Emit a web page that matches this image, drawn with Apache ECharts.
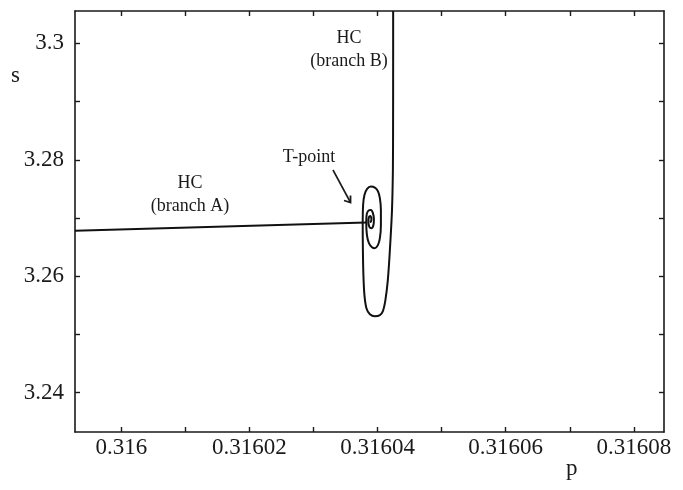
<!DOCTYPE html>
<html>
<head>
<meta charset="utf-8">
<script src="https://cdn.jsdelivr.net/npm/echarts@6/dist/echarts.min.js"></script>
<style>
html, body { margin: 0; padding: 0; background: #fff; }
#main { width: 683px; height: 490px; }
</style>
</head>
<body>
<div id="main"></div>
<script>
// axis ticks and labels
var xTicks = [0.316, 0.31601, 0.31602, 0.31603, 0.31604, 0.31605, 0.31606, 0.31607, 0.31608];
var xLabels = [0.316, 0.31602, 0.31604, 0.31606, 0.31608];
var yTicks = [3.24, 3.25, 3.26, 3.27, 3.28, 3.29, 3.3];
var yLabels = [3.24, 3.26, 3.28, 3.3];
var xMin = 0.31599278, xMax = 0.3160847;
var yMin = 3.23326, yMax = 3.30555;

// HC branch A (straight segment into the T-point)
var branchAP = [0.31599278, 0.31603826];
var branchAS = [3.26780, 3.26924];

// HC branch B (comes down from the top and spirals into the T-point)
var branchBP = [0.31604243, 0.31604243, 0.31604242, 0.31604239, 0.31604225, 0.31604192, 0.31604160, 0.31604122,
  0.31604083, 0.31604036, 0.31603958, 0.31603880, 0.31603826, 0.31603795, 0.31603779, 0.31603771,
  0.31603768, 0.31603774, 0.31603795, 0.31603834, 0.31603896, 0.31603958, 0.31604005, 0.31604036,
  0.31604052, 0.31604052, 0.31604036, 0.31604005, 0.31603958, 0.31603912, 0.31603865, 0.31603834,
  0.31603823, 0.31603831, 0.31603857, 0.31603896, 0.31603927, 0.31603943, 0.31603935, 0.31603904,
  0.31603873, 0.31603857, 0.31603865, 0.31603888, 0.31603904, 0.31603896, 0.31603880];
var branchBS = [3.30555, 3.29713, 3.28682, 3.27823, 3.27136, 3.26448, 3.25933, 3.25589,
  3.25400, 3.25332, 3.25314, 3.25349, 3.25452, 3.25675, 3.26019, 3.26448,
  3.26878, 3.27222, 3.27394, 3.27497, 3.27540, 3.27522, 3.27462, 3.27342,
  3.27136, 3.26878, 3.26655, 3.26534, 3.26483, 3.26500, 3.26569, 3.26706,
  3.26930, 3.27067, 3.27127, 3.27136, 3.27084, 3.26981, 3.26878, 3.26826,
  3.26844, 3.26930, 3.27015, 3.27033, 3.26990, 3.26938, 3.26930];

function zip(a, b) {
    return a.map(function (v, i) { return [v, b[i]]; });
}

var font = 'Liberation Serif';
var ink = '#1a1a1a';

function frameAxis(pos, isX, showLabels) {
    return {
        type: 'value',
        position: pos,
        min: isX ? xMin : yMin,
        max: isX ? xMax : yMax,
        axisLine: { show: true, onZero: false, lineStyle: { color: ink, width: 1.6 } },
        axisTick: {
            show: true, inside: true, length: 5,
            customValues: isX ? xTicks : yTicks,
            lineStyle: { color: ink, width: 1.4 }
        },
        axisLabel: {
            show: showLabels,
            customValues: isX ? xLabels : yLabels,
            margin: isX ? 4 : 11,
            fontFamily: font, fontSize: 23, color: ink,
            formatter: function (v) { return String(+v.toFixed(5)); }
        },
        splitLine: { show: false }
    };
}

var myChart = echarts.init(document.getElementById('main'));
var option = {
    animation: false,
    backgroundColor: '#fff',
    grid: { left: 75, right: 19, top: 11, bottom: 58, containLabel: false },
    xAxis: [frameAxis('bottom', true, true), frameAxis('top', true, false)],
    yAxis: [frameAxis('left', false, true), frameAxis('right', false, false)],
    series: [
        {
            name: 'HC (branch A)', type: 'line', xAxisIndex: 0, yAxisIndex: 0,
            data: zip(branchAP, branchAS), showSymbol: false, symbol: 'none',
            lineStyle: { color: '#111', width: 2 }
        },
        {
            name: 'HC (branch B)', type: 'line', xAxisIndex: 0, yAxisIndex: 0,
            data: zip(branchBP, branchBS), showSymbol: false, symbol: 'none',
            smooth: 0.3,
            lineStyle: { color: '#111', width: 2 }
        }
    ],
    graphic: [
        { type: 'text', left: 11, top: 64, style: { text: 's', font: '23px "Liberation Serif"', fill: ink } },
        { type: 'text', left: 566, top: 457, style: { text: 'p', font: '23px "Liberation Serif"', fill: ink } },
        { type: 'text', x: 349, y: 38, style: { text: 'HC', font: '18px "Liberation Serif"', fill: ink, align: 'center', verticalAlign: 'middle' } },
        { type: 'text', x: 349, y: 61, style: { text: '(branch B)', font: '18px "Liberation Serif"', fill: ink, align: 'center', verticalAlign: 'middle' } },
        { type: 'text', x: 190, y: 183, style: { text: 'HC', font: '18px "Liberation Serif"', fill: ink, align: 'center', verticalAlign: 'middle' } },
        { type: 'text', x: 190, y: 206, style: { text: '(branch A)', font: '18px "Liberation Serif"', fill: ink, align: 'center', verticalAlign: 'middle' } },
        { type: 'text', x: 309, y: 157, style: { text: 'T-point', font: '18px "Liberation Serif"', fill: ink, align: 'center', verticalAlign: 'middle' } },
        { type: 'line', shape: { x1: 333, y1: 170, x2: 350.5, y2: 202.5 }, style: { stroke: ink, lineWidth: 1.6 } },
        { type: 'polyline', shape: { points: [[344, 200.5], [350.5, 202.5], [350.5, 195.5]] }, style: { stroke: ink, lineWidth: 1.8, fill: null } }
    ]
};
myChart.setOption(option, true);
window.onresize = myChart.resize;
</script>
</body>
</html>
